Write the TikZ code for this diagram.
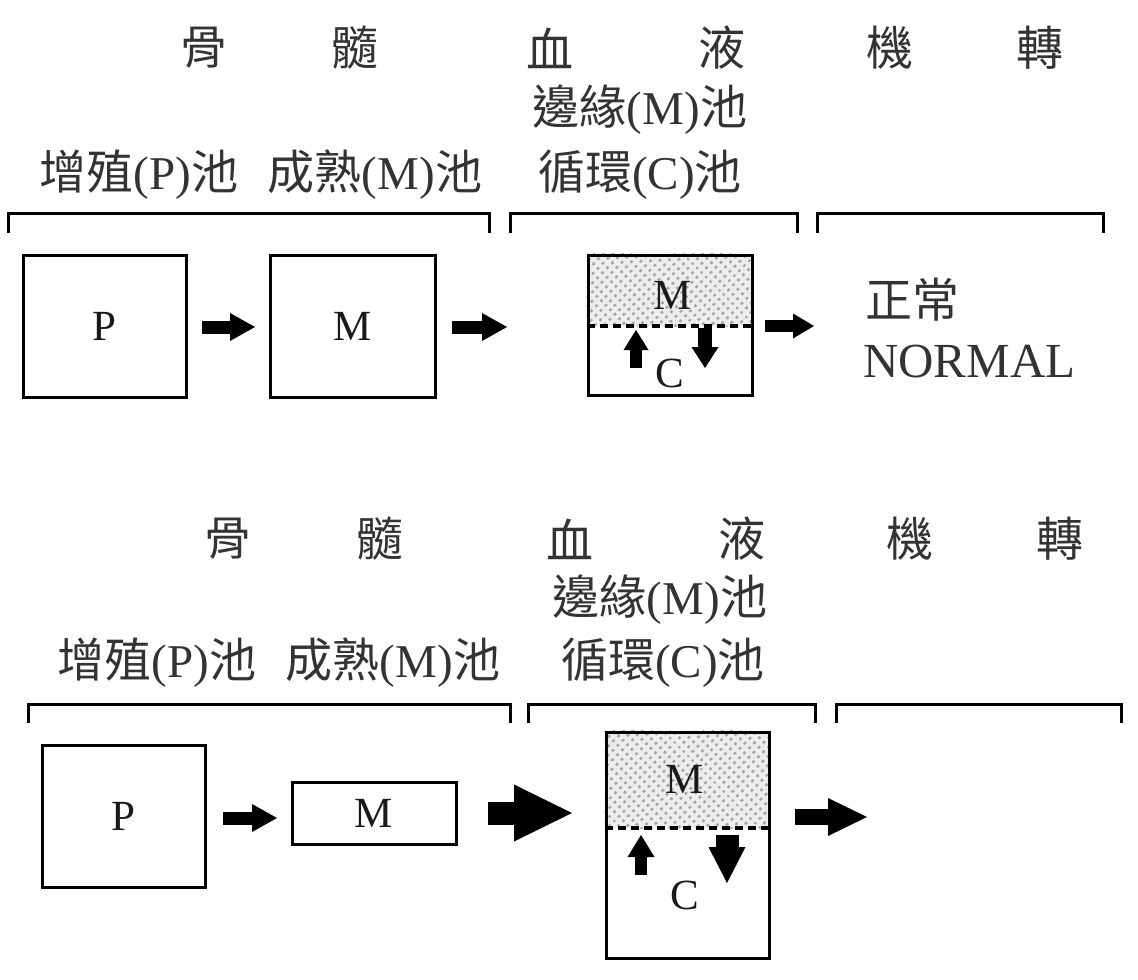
\documentclass[tikz,border=0pt]{standalone}
\usepackage{fontspec}
\setmainfont{Liberation Serif}
\newfontfamily\cjkf{Noto Sans CJK TC}
\usetikzlibrary{arrows.meta,patterns.meta,backgrounds,calc}
\newcommand\zh[1]{{\cjkf #1}}
\begin{document}
\begin{tikzpicture}[x=1pt,y=-1pt,
  lbl/.style={inner sep=0pt, text=black!80, font=\fontsize{47}{52}\selectfont},
  pool/.style={draw, line width=3pt, inner sep=0pt, text=black!90, font=\fontsize{43}{48}\selectfont},
  inlbl/.style={inner sep=0pt, text=black!90, font=\fontsize{43}{48}\selectfont},
  brk/.style={line width=3pt},
  dotbase/.style={fill=gray!14},
  dotfill/.style={pattern={Dots[distance=6.5pt,radius=1.7pt,angle=45]}, pattern color=gray!70},
  dashline/.style={line width=3.5pt, dash pattern=on 8pt off 5pt},
  blk/.style n args={3}{line width=#1, -{Triangle[length=#2,width=#3,line width=0pt]}},
]
\useasboundingbox (0,0) rectangle (1138,980);

% ---------------- top diagram ----------------
\node[lbl] (t1) at (204,48) {\zh{骨}};
\node[lbl] (t2) at (355,48) {\zh{髓}};
\node[lbl] (t3) at (550,48) {\zh{血}};
\node[lbl] (t4) at (722,48) {\zh{液}};
\node[lbl] (t5) at (890,48) {\zh{機}};
\node[lbl] (t6) at (1040,48) {\zh{轉}};
\node[lbl] (tmar) at (640,110) {\zh{邊緣}(M)\zh{池}};
\node[lbl] (tpro) at (139,175) {\zh{增殖}(P)\zh{池}};
\node[lbl] (tmat) at (375,175) {\zh{成熟}(M)\zh{池}};
\node[lbl] (tcir) at (640,175) {\zh{循環}(C)\zh{池}};

\draw[brk] (8,233) -- (8,213) -- (489,213) -- (489,233);
\draw[brk] (510,233) -- (510,213) -- (797,213) -- (797,233);
\draw[brk] (817,233) -- (817,213) -- (1103,213) -- (1103,233);

\node[pool, minimum width=163pt, minimum height=142pt] (P1) at (104.5,326) {P};
\node[pool, minimum width=165pt, minimum height=142pt] (M1) at (352.5,326) {M};
\node[pool, minimum width=164pt, minimum height=140pt] (MC1) at (670,325) {};
\coordinate (d1) at (670,326);
\begin{scope}[on background layer]
  \fill[dotbase] (MC1.north west) rectangle (MC1.east |- d1);
  \fill[dotfill] (MC1.north west) rectangle (MC1.east |- d1);
\end{scope}
\draw[dashline] (MC1.west |- d1) -- (MC1.east |- d1);
\node[inlbl] (m1) at (673,295) {M};
\node[inlbl] (c1) at (670,373) {C};
\coordinate (u1a) at (636,368);
\coordinate (u1b) at (636,330);
\coordinate (w1a) at (705,328);
\coordinate (w1b) at (705,368);
\draw[blk={12pt}{20pt}{25pt}] (u1a) -- (u1b);
\draw[blk={14pt}{21pt}{27pt}] (w1a) -- (w1b);

\node[lbl, anchor=west] (zc) at (865,300) {\zh{正常}};
\node[lbl, anchor=west, font=\fontsize{49}{54}\selectfont] (nor) at (863,362) {NORMAL};

\draw[blk={13pt}{25pt}{28pt}] ([xshift=14.5pt,yshift=-1pt]P1.east) -- ([xshift=-13.5pt,yshift=-1pt]M1.west);
\draw[blk={13pt}{25pt}{28pt}] ([xshift=15.5pt,yshift=-1pt]M1.east) -- ($(M1.east)+(70.5,1)$);
\draw[blk={12pt}{21pt}{25pt}] ([xshift=11.5pt,yshift=-1pt]MC1.east) -- ($(MC1.east)+(60.5,1)$);

% ---------------- bottom diagram ----------------
\node[lbl] (b1) at (228,539) {\zh{骨}};
\node[lbl] (b2) at (380,539) {\zh{髓}};
\node[lbl] (b3) at (570,539) {\zh{血}};
\node[lbl] (b4) at (742,539) {\zh{液}};
\node[lbl] (b5) at (910,539) {\zh{機}};
\node[lbl] (b6) at (1060,539) {\zh{轉}};
\node[lbl] (bmar) at (660,600) {\zh{邊緣}(M)\zh{池}};
\node[lbl] (bpro) at (157,663) {\zh{增殖}(P)\zh{池}};
\node[lbl] (bmat) at (393,663) {\zh{成熟}(M)\zh{池}};
\node[lbl] (bcir) at (663,663) {\zh{循環}(C)\zh{池}};

\draw[brk] (28,723) -- (28,704) -- (510,704) -- (510,723);
\draw[brk] (528,723) -- (528,704) -- (815,704) -- (815,723);
\draw[brk] (836,723) -- (836,704) -- (1121,704) -- (1121,723);

\node[pool, minimum width=163pt, minimum height=142pt] (P2) at (123.5,816) {P};
\node[pool, minimum width=164pt, minimum height=62pt] (M2) at (374,813) {M};
\node[pool, minimum width=163pt, minimum height=226pt] (MC2) at (687.5,845) {};
\coordinate (d2) at (687.5,828);
\begin{scope}[on background layer]
  \fill[dotbase] (MC2.north west) rectangle (MC2.east |- d2);
  \fill[dotfill] (MC2.north west) rectangle (MC2.east |- d2);
\end{scope}
\draw[dashline] (MC2.west |- d2) -- (MC2.east |- d2);
\node[inlbl] (m2) at (685,779) {M};
\node[inlbl] (c2) at (685,895) {C};
\coordinate (u2a) at (641,875);
\coordinate (u2b) at (641,835);
\coordinate (w2a) at (727,835);
\coordinate (w2b) at (727,883);
\draw[blk={12pt}{22pt}{27pt}] (u2a) -- (u2b);
\draw[blk={23pt}{36pt}{37pt}] (w2a) -- (w2b);

\draw[blk={13pt}{25pt}{28pt}] ([xshift=16.5pt,yshift=-2pt]P2.east) -- ([xshift=-13.5pt,yshift=-5pt]M2.west);
\draw[blk={23pt}{58pt}{57pt}] ([xshift=30.5pt]M2.east) -- ($(MC2.west |- M2.east)+(-32.5,0)$);
\draw[blk={16pt}{39pt}{38pt}] ([xshift=24.5pt,yshift=28pt]MC2.east) -- ([xshift=96.5pt,yshift=28pt]MC2.east);
\end{tikzpicture}
\end{document}
